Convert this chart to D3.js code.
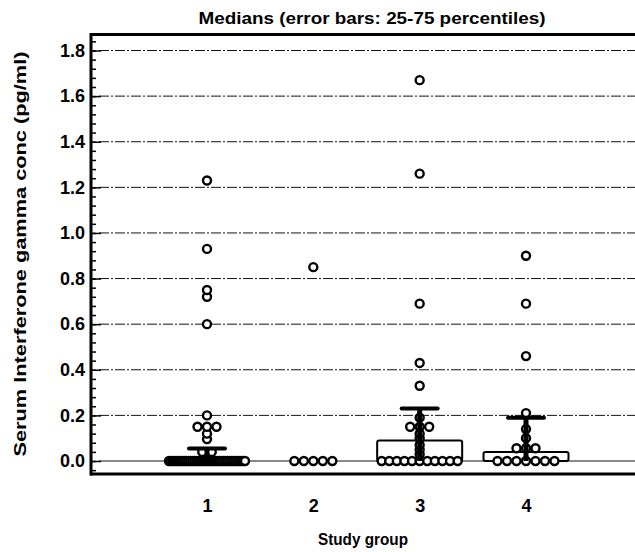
<!DOCTYPE html>
<html>
<head>
<meta charset="utf-8">
<script src="https://cdn.jsdelivr.net/npm/d3@7"></script>
<style>
  body { margin: 0; background: #fff; }
  text { font-family: "Liberation Sans", Arial, sans-serif; font-weight: bold; fill: #000; }
</style>
</head>
<body>
<svg width="635" height="552"></svg>
<script>
// study groups and their individual measurements (pg/ml)
var groups = [1, 2, 3, 4];
var group1 = [0, 0, 0, 0, 0, 0, 0, 0, 0, 0, 0, 0, 0, 0, 0, 0, 0, 0, 0, 0,
              0, 0, 0, 0, 0, 0, 0, 0, 0, 0, 0, 0, 0, 0, 0, 0, 0, 0, 0, 0,
              0.04, 0.04, 0.096, 0.12, 0.15, 0.15, 0.15, 0.20, 0.60, 0.72, 0.75, 0.93, 1.23];
var group2 = [0, 0, 0, 0, 0, 0.85];
var group3 = [0, 0, 0, 0, 0, 0, 0, 0, 0, 0, 0,
              0.03, 0.05, 0.07, 0.10, 0.12, 0.15, 0.15, 0.15, 0.19, 0.33, 0.43, 0.69, 1.26, 1.67];
var group4 = [0, 0, 0, 0, 0, 0, 0, 0.056, 0.056, 0.056, 0.10, 0.14, 0.21, 0.46, 0.69, 0.90];
var medians = [0, 0, 0.09, 0.04];
var p25 = [0, 0, 0, 0];
var p75 = [0.055, 0, 0.23, 0.19];
var yTicks = [0, 0.2, 0.4, 0.6, 0.8, 1.0, 1.2, 1.4, 1.6, 1.8];

var values = [group1, group2, group3, group4];

var svg = d3.select("svg");

var x = d3.scaleLinear().domain([1, 4]).range([207, 526]);
var y = d3.scaleLinear().domain([0, 1.8]).range([461, 50.5]);

var plotLeft = 91, plotRight = 635;
var plotTop = y(1.87), plotBottom = y(-0.057);

// grid lines
svg.append("g").selectAll("line")
    .data(yTicks)
    .enter()
    .append("line")
    .attr("x1", plotLeft + 8)
    .attr("x2", plotRight)
    .attr("y1", function(d) { return y(d); })
    .attr("y2", function(d) { return y(d); })
    .attr("stroke", "#111")
    .attr("stroke-width", 1)
    .attr("stroke-dasharray", function(d) { return d === 0 ? null : "10,2,2,2"; });

// frame: top, bottom, left
svg.append("line").attr("x1", plotLeft - 1).attr("x2", plotRight).attr("y1", plotTop).attr("y2", plotTop)
    .attr("stroke", "#000").attr("stroke-width", 3);
svg.append("line").attr("x1", plotLeft - 1).attr("x2", plotRight).attr("y1", plotBottom).attr("y2", plotBottom)
    .attr("stroke", "#000").attr("stroke-width", 3);
svg.append("line").attr("x1", plotLeft).attr("x2", plotLeft).attr("y1", plotTop - 1.5).attr("y2", plotBottom + 1.5)
    .attr("stroke", "#000").attr("stroke-width", 3);

// y axis: major ticks with labels, minor ticks every 0.04
var minor = d3.range(0, 47).map(function(i) { return +(i * 0.04).toFixed(2); });
minor.push(-0.04);
var yMinor = svg.append("g").attr("transform", "translate(" + plotLeft + ",0)")
    .call(d3.axisLeft(y).tickValues(minor).tickSize(-5).tickFormat(""));
yMinor.select(".domain").remove();
yMinor.selectAll("line").attr("stroke-width", 1.5);

var yAxis = svg.append("g").attr("transform", "translate(" + plotLeft + ",0)")
    .call(d3.axisLeft(y).tickValues(yTicks).tickSize(-10).tickPadding(6).tickFormat(d3.format(".1f")));
yAxis.select(".domain").remove();
yAxis.selectAll("line").attr("stroke-width", 1.5);
yAxis.selectAll("text").style("font-size", "18px").attr("font-family", null).attr("font-size", null);

// x axis labels
var xAxis = svg.append("g").attr("transform", "translate(0," + plotBottom + ")")
    .call(d3.axisBottom(x).tickValues(groups).tickSize(0).tickPadding(25).tickFormat(d3.format("d")));
xAxis.select(".domain").remove();
xAxis.selectAll("text").style("font-size", "18px").attr("font-family", null).attr("font-size", null);

// median boxes
svg.append("g").selectAll("rect")
    .data(groups)
    .enter()
    .filter(function(d, i) { return medians[i] > 0; })
    .append("rect")
    .attr("x", function(d) { return x(d) - 42.5; })
    .attr("width", 85)
    .attr("y", function(d) { return y(medians[d - 1]); })
    .attr("height", function(d) { return y(0) - y(medians[d - 1]); })
    .attr("rx", 2)
    .attr("fill", "#fff")
    .attr("stroke", "#000")
    .attr("stroke-width", 2);

// spread points with equal values sideways
function spread(vals) {
    var counts = {}, seen = {}, out = [];
    vals.forEach(function(v) { counts[v] = (counts[v] || 0) + 1; });
    vals.forEach(function(v) {
        var k = counts[v];
        var i = seen[v] || 0;
        seen[v] = i + 1;
        var step = k > 1 ? Math.min(9.5, 76 / (k - 1)) : 0;
        out.push({ v: v, dx: (i - (k - 1) / 2) * step });
    });
    return out;
}

groups.forEach(function(g, gi) {
    svg.append("g").selectAll("circle")
        .data(spread(values[gi]))
        .enter()
        .append("circle")
        .attr("cx", function(d) { return x(g) + d.dx; })
        .attr("cy", function(d) { return y(d.v); })
        .attr("r", 4)
        .attr("fill", "#fff")
        .attr("stroke", "#000")
        .attr("stroke-width", 2.4);
});

// error bars 25-75 percentiles
groups.forEach(function(g, gi) {
    if (p75[gi] <= p25[gi]) return;
    svg.append("line")
        .attr("x1", x(g)).attr("x2", x(g))
        .attr("y1", y(p25[gi])).attr("y2", y(p75[gi]))
        .attr("stroke", "#000").attr("stroke-width", 5);
    svg.append("line")
        .attr("x1", x(g) - 18).attr("x2", x(g) + 18)
        .attr("y1", y(p75[gi])).attr("y2", y(p75[gi]))
        .attr("stroke", "#000").attr("stroke-width", 4)
        .attr("stroke-linecap", "round");
});

// titles
svg.append("text")
    .attr("x", 372)
    .attr("y", 24)
    .attr("text-anchor", "middle")
    .attr("textLength", 347)
    .attr("lengthAdjust", "spacingAndGlyphs")
    .style("font-size", "17px")
    .text("Medians  (error bars: 25-75 percentiles)");

svg.append("text")
    .attr("x", 363)
    .attr("y", 545)
    .attr("text-anchor", "middle")
    .attr("textLength", 90)
    .attr("lengthAdjust", "spacingAndGlyphs")
    .style("font-size", "17px")
    .text("Study group");

svg.append("text")
    .attr("transform", "translate(26,254) rotate(-90)")
    .attr("text-anchor", "middle")
    .attr("textLength", 405)
    .attr("lengthAdjust", "spacingAndGlyphs")
    .style("font-size", "17px")
    .text("Serum Interferone gamma conc (pg/ml)");
</script>
</body>
</html>
